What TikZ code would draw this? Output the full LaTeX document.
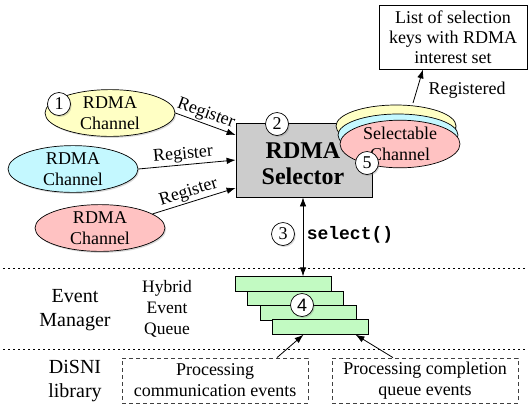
\documentclass[tikz,border=0pt]{standalone}
\usepackage{fontspec}
\setmainfont{Liberation Serif}
\setmonofont{Liberation Mono}
\newfontfamily\numsans{Liberation Sans}
\usetikzlibrary{shapes.geometric,shadows,arrows.meta}

\definecolor{chyellow}{RGB}{255,255,196}
\definecolor{chcyan}{RGB}{196,248,255}
\definecolor{chpink}{RGB}{255,194,194}
\definecolor{qgreen}{RGB}{194,250,194}
\definecolor{selgray}{RGB}{204,204,204}

\tikzset{
  softshadow/.style={drop shadow={shadow xshift=1.2pt,shadow yshift=-1.5pt,opacity=0.3}},
  chan/.style={ellipse, draw, line width=0.7pt, minimum width=130pt, minimum height=44pt,
    inner sep=0pt, align=center, font=\fontsize{18}{21}\selectfont, softshadow},
  selch/.style={ellipse, draw, line width=0.7pt, minimum width=120pt, minimum height=42pt,
    inner sep=0pt, align=center, font=\fontsize{18}{21}\selectfont},
  num/.style={circle, draw, line width=0.7pt, fill=white, minimum size=23pt, inner sep=0pt,
    font=\fontsize{18}{18}\selectfont, softshadow},
  arr/.style={-{Latex[length=9pt,width=6.5pt]}, line width=0.8pt},
  lbl/.style={font=\fontsize{18}{20}\selectfont, inner sep=1.5pt},
  sepline/.style={dash pattern=on 1.5pt off 3.5pt, line width=0.9pt},
  qbar/.style={draw, line width=0.8pt, fill=qgreen, minimum width=96pt, minimum height=14.5pt, inner sep=0pt},
  procbox/.style={draw=black!75, dash pattern=on 4pt off 3pt, line width=0.8pt, minimum width=186pt,
    minimum height=45pt, align=center, inner sep=0pt, font=\fontsize{18}{21}\selectfont},
  layer/.style={align=center, font=\fontsize{20}{24}\selectfont},
}

\begin{document}
\begin{tikzpicture}[x=1pt,y=-1pt]
\useasboundingbox (0,0) rectangle (529,405);

% layer separators
\coordinate (s1l) at (3,268);  \coordinate (s1r) at (526,268);
\coordinate (s2l) at (3,349);  \coordinate (s2r) at (526,349);
\draw[sepline] (s1l) -- (s1r);
\draw[sepline] (s2l) -- (s2r);

% RDMA channels
\node[chan, fill=chyellow] (c1) at (110,113) {RDMA\\Channel};
\node[chan, fill=chcyan]   (c2) at (73,169)  {RDMA\\Channel};
\node[chan, fill=chpink]   (c3) at (100,228) {RDMA\\Channel};

% selector box and its title
\node[draw, line width=0.8pt, fill=selgray, minimum width=136pt, minimum height=74pt,
      inner sep=0pt] (sel) at (304,160) {};
\node[align=center, inner sep=0pt, font=\fontsize{24}{26}\selectfont\bfseries] (selt) at (303,164) {RDMA\\Selector};

% registration arrows
\draw[arr] (c1.east) -- ([yshift=25pt]sel.west) node[lbl, pos=0.45, above, sloped] {Register};
\draw[arr] (c2.east) -- (sel.west) node[lbl, pos=0.47, above, sloped] {Register};
\draw[arr] (c3.15) -- ([yshift=-28pt]sel.west) node[lbl, pos=0.47, above, sloped] {Register};

% list of selection keys
\node[draw, line width=0.8pt, fill=white, minimum width=148pt, minimum height=64pt, align=center,
      inner sep=0pt, font=\fontsize{18}{20}\selectfont] (list) at (453,37)
      {List of selection\\keys with RDMA\\interest set};
\coordinate (regstart) at (413,103);
\draw[arr] (regstart) -- ([xshift=-30pt]list.south);
\node[lbl] (regd) at (467,90) {Registered};

% stacked selectable channels
\node[selch, fill=chyellow, softshadow] (sy) at (396,126) {};
\node[selch, fill=chcyan] (sc) at (398,135) {};
\node[selch, fill=chpink] (sp) at (400,144) {Selectable\\Channel};

% hybrid event queue
\node[qbar] (b1) at (283,284) {};
\node[qbar] (b2) at (295.5,298.5) {};
\node[qbar] (b3) at (308,313) {};
\node[qbar] (b4) at (320.5,327) {};

% select() call
\draw[{Latex[length=9pt,width=6.5pt]}-{Latex[length=9pt,width=6.5pt]}, line width=0.8pt]
  ([xshift=-1pt]sel.south) -- ([xshift=-1pt]sel.south |- b1.north);
\node[font=\fontsize{18}{18}\selectfont\ttfamily\bfseries] (sc1) at (350,235) {select()};

% numbered markers
\node[num] (n1) at (59,104) {1};
\node[num] (n2) at (277,124) {2};
\node[num] (n3) at (283,234) {3};
\node[num, font=\fontsize{18}{18}\numsans] (n4) at (302,305) {4};
\node[num] (n5) at (367,163) {5};

% layer labels
\node[layer] (em) at (75,310) {Event\\Manager};
\node[align=center, font=\fontsize{17.5}{21}\selectfont] (heq) at (167,309) {Hybrid\\Event\\Queue};
\node[layer] (dl) at (75,381) {DiSNI\\library};

% DiSNI processing
\node[procbox] (d1) at (215,380.5) {Processing\\communication events};
\node[procbox] (d2) at (425,380.5) {Processing completion\\queue events};
\draw[arr] ([xshift=62pt]d1.north) -- ([xshift=-17pt]b4.south);
\draw[arr] ([xshift=-32pt]d2.north) -- ([xshift=35pt]b4.south);
\end{tikzpicture}
\end{document}
